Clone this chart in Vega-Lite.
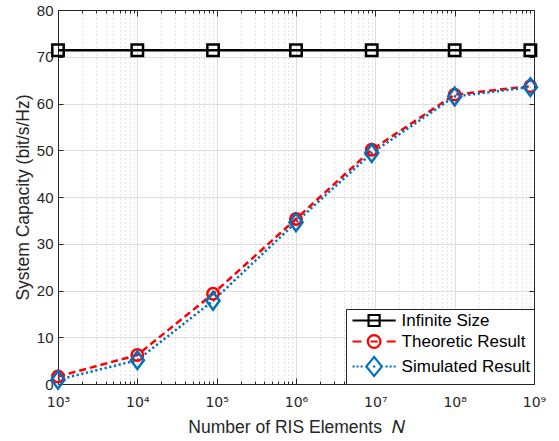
{
  "$schema": "https://vega.github.io/schema/vega-lite/v6.json",
  "width": 476,
  "height": 374,
  "autosize": "none",
  "padding": {"left": 58, "top": 10, "right": 25, "bottom": 57},
  "background": "white",
  "config": {
    "view": {"stroke": "#262626", "strokeWidth": 1},
    "font": "Liberation Sans",
    "axis": {
      "labelFont": "Liberation Sans",
      "titleFont": "Liberation Sans",
      "labelColor": "#262626",
      "titleColor": "#262626",
      "domainColor": "#262626",
      "tickColor": "#262626",
      "titleFontWeight": "normal",
      "labelFontSize": 15,
      "titleFontSize": 17.5,
      "domainWidth": 1,
      "tickWidth": 1
    }
  },
  "datasets": {
    "caps": [
      {"N": 1000, "capacity": 71.4, "series": "Infinite Size"},
      {"N": 10000, "capacity": 71.4, "series": "Infinite Size"},
      {"N": 90000, "capacity": 71.4, "series": "Infinite Size"},
      {"N": 1000000, "capacity": 71.4, "series": "Infinite Size"},
      {"N": 9000000, "capacity": 71.4, "series": "Infinite Size"},
      {"N": 100000000, "capacity": 71.4, "series": "Infinite Size"},
      {"N": 900000000, "capacity": 71.4, "series": "Infinite Size"},
      {"N": 1000, "capacity": 1.6, "series": "Theoretic Result"},
      {"N": 10000, "capacity": 6.2, "series": "Theoretic Result"},
      {"N": 90000, "capacity": 19.3, "series": "Theoretic Result"},
      {"N": 1000000, "capacity": 35.3, "series": "Theoretic Result"},
      {"N": 9000000, "capacity": 50.1, "series": "Theoretic Result"},
      {"N": 100000000, "capacity": 61.9, "series": "Theoretic Result"},
      {"N": 900000000, "capacity": 63.7, "series": "Theoretic Result"},
      {"N": 1000, "capacity": 0.9, "series": "Simulated Result"},
      {"N": 10000, "capacity": 5.1, "series": "Simulated Result"},
      {"N": 90000, "capacity": 17.8, "series": "Simulated Result"},
      {"N": 1000000, "capacity": 34.6, "series": "Simulated Result"},
      {"N": 9000000, "capacity": 49.4, "series": "Simulated Result"},
      {"N": 100000000, "capacity": 61.5, "series": "Simulated Result"},
      {"N": 900000000, "capacity": 63.5, "series": "Simulated Result"}
    ]
  },
  "data": {"name": "caps"},
  "layer": [
    {
      "mark": {"type": "line", "strokeWidth": 2.5, "clip": false},
      "encoding": {
        "x": {
          "field": "N",
          "type": "quantitative",
          "scale": {"type": "log", "domain": [1000, 1000000000], "nice": false},
          "axis": {
            "orient": "bottom",
            "title": "Number of RIS Elements\u00a0\u00a0\ud835\udc41",
            "titlePadding": 6,
            "values": [1000, 2000, 3000, 4000, 5000, 6000, 7000, 8000, 9000, 10000, 20000, 30000, 40000, 50000, 60000, 70000, 80000, 90000, 100000, 200000, 300000, 400000, 500000, 600000, 700000, 800000, 900000, 1000000, 2000000, 3000000, 4000000, 5000000, 6000000, 7000000, 8000000, 9000000, 10000000, 20000000, 30000000, 40000000, 50000000, 60000000, 70000000, 80000000, 90000000, 100000000, 200000000, 300000000, 400000000, 500000000, 600000000, 700000000, 800000000, 900000000, 1000000000],
            "labelExpr": "abs(log(datum.value)/LN10 - round(log(datum.value)/LN10)) < 0.001 ? '10' + ['\u2070','\u00b9','\u00b2','\u00b3','\u2074','\u2075','\u2076','\u2077','\u2078','\u2079'][round(log(datum.value)/LN10)] : ''",
            "labelFont": "DejaVu Sans",
            "labelFontSize": 14,
            "labelOverlap": false,
            "labelFlush": false,
            "labelPadding": 17,
            "grid": true,
            "gridColor": {"condition": {"test": "abs(log(datum.value)/LN10 - round(log(datum.value)/LN10)) < 0.001", "value": "#dedede"}, "value": "#c8c8c8"},
            "gridDash": {"condition": {"test": "abs(log(datum.value)/LN10 - round(log(datum.value)/LN10)) < 0.001", "value": []}, "value": [1, 3]},
            "tickSize": {"condition": {"test": "abs(log(datum.value)/LN10 - round(log(datum.value)/LN10)) < 0.001", "value": -6}, "value": -3}
          }
        },
        "y": {
          "field": "capacity",
          "type": "quantitative",
          "scale": {"domain": [0, 80], "nice": false, "zero": false},
          "axis": {
            "orient": "left",
            "title": "System Capacity (bit/s/Hz)",
            "values": [0, 10, 20, 30, 40, 50, 60, 70, 80],
            "grid": true,
            "gridColor": "#dedede",
            "tickSize": -5,
            "labelPadding": 10,
            "titlePadding": 4
          }
        },
        "color": {
          "field": "series",
          "type": "nominal",
          "scale": {"domain": ["Infinite Size", "Theoretic Result", "Simulated Result"], "range": ["#000000", "#ff0000", "#0072bd"]},
          "legend": null
        },
        "strokeDash": {
          "field": "series",
          "type": "nominal",
          "scale": {"domain": ["Infinite Size", "Theoretic Result", "Simulated Result"], "range": [[1, 0], [7, 4], [2.2, 2.6]]},
          "legend": null
        }
      }
    },
    {
      "mark": {"type": "point", "filled": false, "strokeWidth": 2.5, "size": 130, "opacity": 1, "clip": false},
      "encoding": {
        "x": {
          "field": "N",
          "type": "quantitative",
          "scale": {"type": "log", "domain": [1000, 1000000000], "nice": false},
          "axis": {
            "orient": "top",
            "title": null,
            "labels": false,
            "grid": false,
            "values": [1000, 2000, 3000, 4000, 5000, 6000, 7000, 8000, 9000, 10000, 20000, 30000, 40000, 50000, 60000, 70000, 80000, 90000, 100000, 200000, 300000, 400000, 500000, 600000, 700000, 800000, 900000, 1000000, 2000000, 3000000, 4000000, 5000000, 6000000, 7000000, 8000000, 9000000, 10000000, 20000000, 30000000, 40000000, 50000000, 60000000, 70000000, 80000000, 90000000, 100000000, 200000000, 300000000, 400000000, 500000000, 600000000, 700000000, 800000000, 900000000, 1000000000],
            "tickSize": {"condition": {"test": "abs(log(datum.value)/LN10 - round(log(datum.value)/LN10)) < 0.001", "value": -6}, "value": -3}
          }
        },
        "y": {
          "field": "capacity",
          "type": "quantitative",
          "scale": {"domain": [0, 80], "nice": false, "zero": false},
          "axis": {
            "orient": "right",
            "title": null,
            "labels": false,
            "grid": false,
            "values": [0, 10, 20, 30, 40, 50, 60, 70, 80],
            "tickSize": -5
          }
        },
        "color": {
          "field": "series",
          "type": "nominal",
          "scale": {"domain": ["Infinite Size", "Theoretic Result", "Simulated Result"], "range": ["#000000", "#ff0000", "#0072bd"]},
          "legend": null
        },
        "shape": {
          "field": "series",
          "type": "nominal",
          "scale": {"domain": ["Infinite Size", "Theoretic Result", "Simulated Result"], "range": ["square", "circle", "M0,-1.55L1.15,0L0,1.55L-1.15,0Z"]},
          "legend": null
        }
      }
    },
    {
      "data": {"values": []},
      "mark": {"type": "point", "filled": false, "strokeWidth": 2.2},
      "encoding": {
        "color": {
          "field": "series",
          "type": "nominal",
          "scale": {"domain": ["Infinite Size", "Theoretic Result", "Simulated Result"], "range": ["#000000", "#ff0000", "#0072bd"]},
          "legend": {
            "orient": "bottom-right",
            "offset": 0,
            "title": null,
            "fillColor": "white",
            "strokeColor": "#262626",
            "padding": 3,
            "labelFont": "Liberation Sans",
            "labelFontSize": 17,
            "labelColor": "#000000",
            "symbolSize": 144,
            "symbolStrokeWidth": 2.2,
            "symbolFillColor": "transparent",
            "symbolOpacity": 1,
            "symbolOffset": 16.6,
            "labelOffset": 19,
            "rowPadding": -1
          }
        },
        "shape": {
          "field": "series",
          "type": "nominal",
          "scale": {"domain": ["Infinite Size", "Theoretic Result", "Simulated Result"], "range": ["M-3.6,0H3.6M-0.92,-0.92H0.92V0.92H-0.92Z", "M-3.6,0H-2.1M-0.6,0H0.6M2.1,0H3.6M1.05,0A1.05,1.05 0 1,1 -1.05,0A1.05,1.05 0 1,1 1.05,0Z", "M-3.6,0H-3.25M-2.93,0H-2.58M-2.26,0H-1.91M-0.2,0H0.2M1.91,0H2.26M2.58,0H2.93M3.25,0H3.6M0,-1.6L1.3,0L0,1.6L-1.3,0Z"]},
          "legend": {
            "orient": "bottom-right",
            "offset": 0,
            "title": null
          }
        }
      }
    }
  ],
  "resolve": {
    "scale": {"shape": "independent", "color": "independent", "strokeDash": "independent"},
    "axis": {"x": "independent", "y": "independent"}
  }
}
